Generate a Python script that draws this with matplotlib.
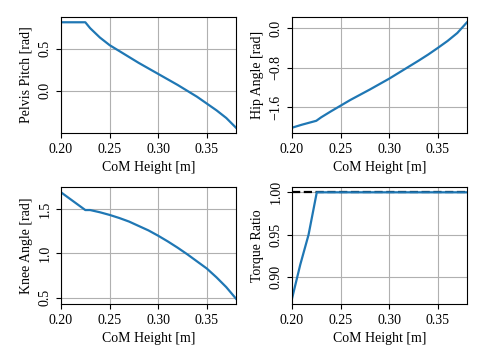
import matplotlib
matplotlib.use("Agg")
import matplotlib.pyplot as plt

plt.rcParams['font.family'] = ['Liberation Serif', 'DejaVu Serif']
plt.rcParams['font.size'] = 10
plt.rcParams['mathtext.fontset'] = 'stix'

# Data
pelvis_x = [0.20, 0.225, 0.23, 0.24, 0.25, 0.26, 0.27, 0.28, 0.29, 0.30, 0.31, 0.32, 0.33, 0.34, 0.35, 0.36, 0.37, 0.38]
pelvis_y = [0.81, 0.81, 0.74, 0.63, 0.54, 0.47, 0.40, 0.33, 0.265, 0.20, 0.135, 0.07, 0.0, -0.07, -0.15, -0.23, -0.32, -0.435]

hip_x = [0.20, 0.21, 0.225, 0.23, 0.24, 0.25, 0.26, 0.27, 0.28, 0.29, 0.30, 0.31, 0.32, 0.33, 0.34, 0.35, 0.36, 0.37, 0.38]
hip_y = [-2.01, -1.95, -1.87, -1.80, -1.68, -1.565, -1.45, -1.345, -1.24, -1.13, -1.02, -0.90, -0.78, -0.66, -0.535, -0.40, -0.26, -0.10, 0.117]

knee_x = [0.20, 0.21, 0.225, 0.23, 0.24, 0.25, 0.26, 0.27, 0.28, 0.29, 0.30, 0.31, 0.32, 0.33, 0.34, 0.35, 0.36, 0.37, 0.38]
knee_y = [1.69, 1.61, 1.49, 1.49, 1.465, 1.435, 1.40, 1.36, 1.31, 1.26, 1.20, 1.135, 1.065, 0.99, 0.91, 0.83, 0.73, 0.62, 0.49]

torque_x = [0.20, 0.2085, 0.217, 0.2255, 0.25, 0.30, 0.35, 0.38]
torque_y = [0.875, 0.915, 0.95, 1.0, 1.0, 1.0, 1.0, 1.0]
torque_limit = 1.0

x_ticks = [0.20, 0.25, 0.30, 0.35]
pelvis_ticks = [0.0, 0.5]
hip_ticks = [-1.6, -0.8, 0.0]
knee_ticks = [0.5, 1.0, 1.5]
torque_ticks = [0.90, 0.95, 1.00]

W, H = 485, 363
fig = plt.figure(figsize=(W / 100, H / 100), dpi=100)

def make_ax(l, r, t, b):
    return fig.add_axes([l / W, 1 - b / H, (r - l) / W, (b - t) / H])

ax1 = make_ax(61, 236, 17, 133)
ax2 = make_ax(292, 467, 17, 133)
ax3 = make_ax(61, 236, 187, 304)
ax4 = make_ax(292, 467, 187, 304)

blue = '#1f77b4'
lw = 1.6

ax1.plot(pelvis_x, pelvis_y, color=blue, lw=lw)
ax1.set_ylabel('Pelvis Pitch [rad]')
ax1.set_yticks(pelvis_ticks)
ax1.set_yticklabels(['0.0', '0.5'])

ax2.plot(hip_x, hip_y, color=blue, lw=lw)
ax2.set_ylabel('Hip Angle [rad]')
ax2.set_yticks(hip_ticks)
ax2.set_yticklabels(['\u22121.6', '\u22120.8', '0.0'])

ax3.plot(knee_x, knee_y, color=blue, lw=lw)
ax3.set_ylabel('Knee Angle [rad]')
ax3.set_yticks(knee_ticks)
ax3.set_yticklabels(['0.5', '1.0', '1.5'])

ax4.axhline(torque_limit, color='black', ls='--', lw=lw, zorder=1.5)
ax4.plot(torque_x, torque_y, color=blue, lw=lw, zorder=2)
ax4.set_ylabel('Torque Ratio')
ax4.set_yticks(torque_ticks)
ax4.set_yticklabels(['0.90', '0.95', '1.00'])

for ax in (ax1, ax2, ax3, ax4):
    ax.set_xlim(0.20, 0.38)
    ax.set_xticks(x_ticks)
    ax.set_xticklabels(['0.20', '0.25', '0.30', '0.35'])
    ax.set_xlabel('CoM Height [m]')
    ax.grid(True, color='#b0b0b0', lw=0.8)
    ax.set_axisbelow(True)
    for lab in ax.get_yticklabels():
        lab.set_rotation(90)
        lab.set_va('center')
    for s in ax.spines.values():
        s.set_linewidth(0.8)

fig.savefig('out.png', dpi=100)
